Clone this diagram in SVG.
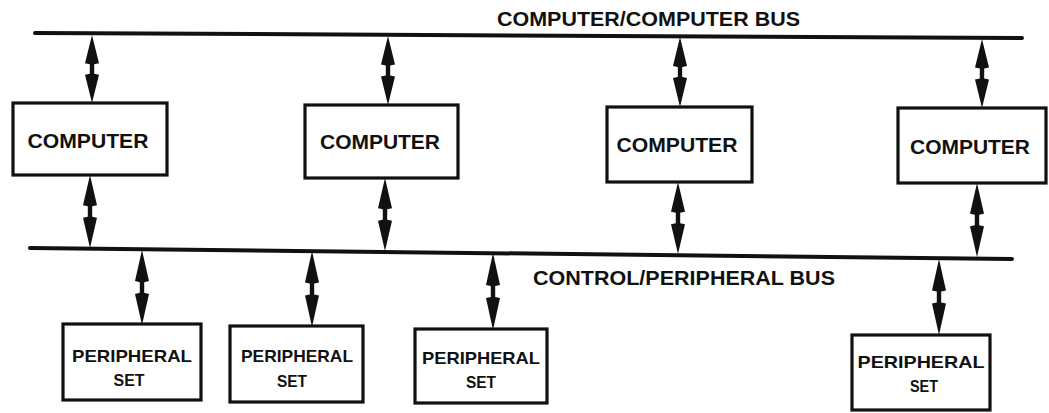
<svg xmlns="http://www.w3.org/2000/svg" width="1049" height="413" viewBox="0 0 1049 413">
<style>
.bus{stroke:#111;stroke-width:4;fill:none;stroke-linecap:round}
.box{fill:#fff;stroke:#111;stroke-width:3.2}
.con{fill:#111}
text{font-family:"Liberation Sans",Arial,sans-serif;font-weight:bold;fill:#111}
.lbl{font-size:20px}
.cmp{font-size:21px;text-anchor:middle}
.per{font-size:17px;text-anchor:middle}
</style>
<defs>
<path id="dbl" d="M0,0 L7,29 L2.2,30 L2.2,40 L7,41 L0,70 L-7,41 L-2.2,40 L-2.2,30 L-7,29 Z"/>
</defs>
<g id="buses">
<path class="bus" d="M35,33 L1022,38"/>
<path class="bus" d="M30,248 L1012,259"/>
<text class="lbl" x="497" y="26" textLength="303" lengthAdjust="spacingAndGlyphs">COMPUTER/COMPUTER BUS</text>
<text class="lbl" x="533" y="285" font-size="18" textLength="302" lengthAdjust="spacingAndGlyphs">CONTROL/PERIPHERAL BUS</text>
</g>
<g id="connectors" class="con">
<use href="#dbl" transform="translate(92,35) scale(1,0.971)"/>
<use href="#dbl" transform="translate(388,36) scale(1,0.986)"/>
<use href="#dbl" transform="translate(680,37) scale(1,1)"/>
<use href="#dbl" transform="translate(982,39) scale(1,0.986)"/>
<use href="#dbl" transform="translate(90,175) scale(1,1.043)"/>
<use href="#dbl" transform="translate(385,178) scale(1,1.043)"/>
<use href="#dbl" transform="translate(678,182) scale(1,1.029)"/>
<use href="#dbl" transform="translate(977,183) scale(1,1.057)"/>
<use href="#dbl" transform="translate(142,250) scale(1,1.071)"/>
<use href="#dbl" transform="translate(312,251) scale(1,1.086)"/>
<use href="#dbl" transform="translate(493,253) scale(1,1.1)"/>
<use href="#dbl" transform="translate(939,259) scale(1,1.086)"/>
</g>
<g id="computer1">
<rect class="box" x="13" y="103" width="154" height="72"/>
<text class="cmp" x="88" y="148" textLength="121" lengthAdjust="spacingAndGlyphs">COMPUTER</text>
</g>
<g id="computer2">
<rect class="box" x="305" y="105" width="153" height="73"/>
<text class="cmp" x="380" y="149" textLength="120" lengthAdjust="spacingAndGlyphs">COMPUTER</text>
</g>
<g id="computer3">
<rect class="box" x="607" y="107" width="145" height="75"/>
<text class="cmp" x="677" y="152" textLength="121" lengthAdjust="spacingAndGlyphs">COMPUTER</text>
</g>
<g id="computer4">
<rect class="box" x="898" y="108" width="148" height="75"/>
<text class="cmp" x="970" y="154" textLength="120" lengthAdjust="spacingAndGlyphs">COMPUTER</text>
</g>
<g id="peripheral1">
<rect class="box" x="63" y="324" width="138" height="76"/>
<text class="per" x="132" y="362" textLength="120" lengthAdjust="spacingAndGlyphs">PERIPHERAL</text>
<text class="per" x="129" y="386" textLength="31" lengthAdjust="spacingAndGlyphs">SET</text>
</g>
<g id="peripheral2">
<rect class="box" x="230" y="326" width="133" height="76"/>
<text class="per" x="297" y="362" textLength="112" lengthAdjust="spacingAndGlyphs">PERIPHERAL</text>
<text class="per" x="292" y="387" textLength="30" lengthAdjust="spacingAndGlyphs">SET</text>
</g>
<g id="peripheral3">
<rect class="box" x="415" y="329" width="132" height="74"/>
<text class="per" x="481" y="364" textLength="118" lengthAdjust="spacingAndGlyphs">PERIPHERAL</text>
<text class="per" x="481" y="388" textLength="30" lengthAdjust="spacingAndGlyphs">SET</text>
</g>
<g id="peripheral4">
<rect class="box" x="852" y="335" width="138" height="75"/>
<text class="per" x="921" y="368" textLength="127" lengthAdjust="spacingAndGlyphs">PERIPHERAL</text>
<text class="per" x="924" y="392" textLength="28" lengthAdjust="spacingAndGlyphs">SET</text>
</g>
</svg>
